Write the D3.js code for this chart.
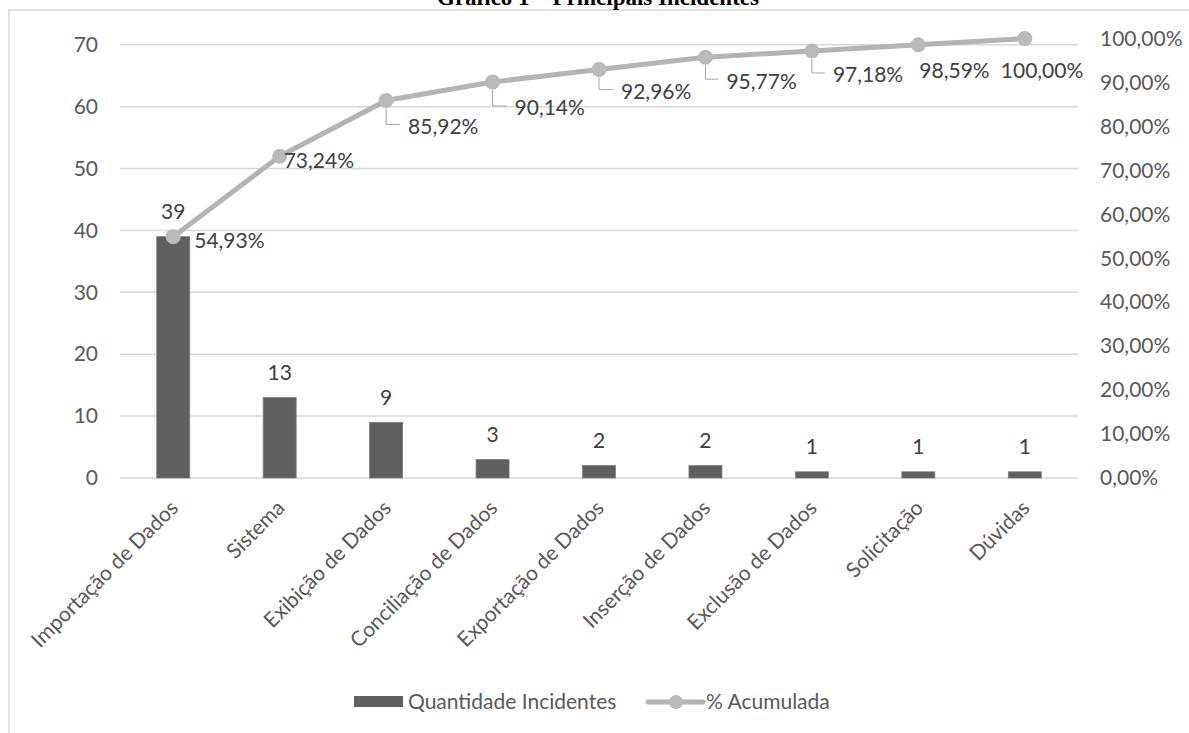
<!DOCTYPE html>
<html>
<head>
<meta charset="utf-8">
<script src="https://cdn.jsdelivr.net/npm/d3@7"></script>
<style>
  body { margin: 0; background: #fff; }
  svg { display: block; }
  text { font-family: Lato, "Open Sans", sans-serif; }
</style>
</head>
<body>
<div id="chart"></div>
<script>
const categories = ["Importação de Dados", "Sistema", "Exibição de Dados", "Conciliação de Dados",
  "Exportação de Dados", "Inserção de Dados", "Exclusão de Dados", "Solicitação", "Dúvidas"];
const counts = [39, 13, 9, 3, 2, 2, 1, 1, 1];
const cumulative = [0.5493, 0.7324, 0.8592, 0.9014, 0.9296, 0.9577, 0.9718, 0.9859, 1.0];
const leftTicks = [0, 10, 20, 30, 40, 50, 60, 70];
const rightTicks = [0, 0.1, 0.2, 0.3, 0.4, 0.5, 0.6, 0.7, 0.8, 0.9, 1.0];

const width = 1189, height = 733;
const plot = { left: 120, right: 1078, top: 38.6, bottom: 478 };

const fmtPct = v => d3.format(".2f")(v * 100).replace(".", ",") + "%";

const svg = d3.select("#chart").append("svg")
  .attr("width", width)
  .attr("height", height);

// chart frame
svg.append("rect")
  .attr("x", 9).attr("y", 10)
  .attr("width", width + 20).attr("height", height + 20)
  .style("fill", "none")
  .style("stroke", "#d9d9d9")
  .style("stroke-width", 1.5);

// title (cut at top, as in the source)
svg.append("text")
  .attr("x", 598).attr("y", 5)
  .attr("text-anchor", "middle")
  .style("font-family", "'Liberation Serif', 'Times New Roman', serif")
  .style("font-weight", "bold")
  .style("font-size", "23px")
  .style("fill", "#000")
  .text("Gráfico 1 – Principais Incidentes");

const x = d3.scaleBand()
  .domain(categories)
  .range([plot.left, plot.right])
  .paddingInner(0.69)
  .paddingOuter(0.345);

const y = d3.scaleLinear().domain([0, d3.sum(counts)]).range([plot.bottom, plot.top]);
const y2 = d3.scaleLinear().domain([0, 1]).range([plot.bottom, plot.top]);

// gridlines
svg.append("g")
  .selectAll("line")
  .data(leftTicks)
  .enter().append("line")
  .attr("x1", plot.left).attr("x2", plot.right)
  .attr("y1", d => y(d)).attr("y2", d => y(d))
  .style("stroke", "#d9d9d9")
  .style("stroke-width", 1.5);

// left axis
const leftAxis = svg.append("g")
  .attr("transform", `translate(${plot.left - 22},0)`)
  .call(d3.axisLeft(y).tickValues(leftTicks).tickSize(0).tickPadding(0));
leftAxis.select(".domain").remove();
leftAxis.selectAll("text")
  .style("font-family", "Lato, sans-serif")
  .style("font-size", "21px")
  .style("fill", "#595959");

// right axis
const rightAxis = svg.append("g")
  .attr("transform", `translate(${plot.right + 22},0)`)
  .call(d3.axisRight(y2).tickValues(rightTicks).tickFormat(fmtPct).tickSize(0).tickPadding(0));
rightAxis.select(".domain").remove();
rightAxis.selectAll("text")
  .style("font-family", "Lato, sans-serif")
  .style("font-size", "21px")
  .style("fill", "#595959");

// category labels
svg.append("g")
  .selectAll("text")
  .data(categories)
  .enter().append("text")
  .attr("transform", d => `translate(${x(d) + x.bandwidth() / 2 + 1},${plot.bottom + 26}) rotate(-45)`)
  .attr("text-anchor", "end")
  .attr("dy", "0.35em")
  .style("font-size", "21px")
  .style("fill", "#595959")
  .text(d => d);

// bars
svg.append("g")
  .selectAll("rect")
  .data(counts)
  .enter().append("rect")
  .attr("x", (d, i) => x(categories[i]))
  .attr("y", d => y(d))
  .attr("width", x.bandwidth())
  .attr("height", d => plot.bottom - y(d))
  .style("fill", "#5f5f5f")
  .style("stroke", "#7a7a7a")
  .style("stroke-width", 0.75);

svg.append("g")
  .selectAll("text")
  .data(counts)
  .enter().append("text")
  .attr("x", (d, i) => x(categories[i]) + x.bandwidth() / 2)
  .attr("y", d => y(d) - 25)
  .attr("dy", "0.35em")
  .attr("text-anchor", "middle")
  .style("font-size", "21px")
  .style("fill", "#404040")
  .text(d => d);

// cumulative line
const cx = i => x(categories[i]) + x.bandwidth() / 2;
const line = d3.line().x((d, i) => cx(i)).y(d => y2(d));

svg.append("path")
  .datum(cumulative)
  .attr("d", line)
  .style("fill", "none")
  .style("stroke", "#b4b4b4")
  .style("stroke-width", 5)
  .style("stroke-linejoin", "round");

svg.append("g")
  .selectAll("circle")
  .data(cumulative)
  .enter().append("circle")
  .attr("cx", (d, i) => cx(i))
  .attr("cy", d => y2(d))
  .attr("r", 7.5)
  .style("fill", "#bababa");

// label placement for the % line (dx, dy from point, leader line or not)
const labelPos = [
  { dx: 21, dy: 4, leader: false },
  { dx: 4, dy: 4, leader: false },
  { dx: 22, dy: 26, leader: true },
  { dx: 22, dy: 26, leader: true },
  { dx: 22, dy: 22, leader: true },
  { dx: 21, dy: 24, leader: true },
  { dx: 21, dy: 24, leader: true },
  { dx: 1, dy: 26, leader: false },
  { dx: -24, dy: 32, leader: false }
];

const pctLabels = svg.append("g");
cumulative.forEach((v, i) => {
  const p = labelPos[i];
  const px = cx(i), py = y2(v);
  if (p.leader) {
    pctLabels.append("path")
      .attr("d", `M${px},${py + 8}V${py + p.dy - 2}H${px + p.dx - 8}`)
      .style("fill", "none")
      .style("stroke", "#a6a6a6")
      .style("stroke-width", 1);
  }
  pctLabels.append("text")
    .attr("x", px + p.dx)
    .attr("y", py + p.dy)
    .attr("dy", "0.35em")
    .style("font-size", "21px")
    .style("fill", "#404040")
    .text(fmtPct(v));
});

// legend
const legend = svg.append("g");
legend.append("rect")
  .attr("x", 354).attr("y", 696)
  .attr("width", 49).attr("height", 11)
  .style("fill", "#5f5f5f");
legend.append("text")
  .attr("x", 408).attr("y", 702)
  .attr("dy", "0.35em")
  .style("font-size", "21px")
  .style("fill", "#595959")
  .text("Quantidade Incidentes");
legend.append("line")
  .attr("x1", 648).attr("x2", 703)
  .attr("y1", 702).attr("y2", 702)
  .style("stroke", "#b4b4b4")
  .style("stroke-width", 5)
  .style("stroke-linecap", "round");
legend.append("circle")
  .attr("cx", 676).attr("cy", 702).attr("r", 7)
  .style("fill", "#bababa");
legend.append("text")
  .attr("x", 706).attr("y", 702)
  .attr("dy", "0.35em")
  .style("font-size", "21px")
  .style("fill", "#595959")
  .text("% Acumulada");
</script>
</body>
</html>
